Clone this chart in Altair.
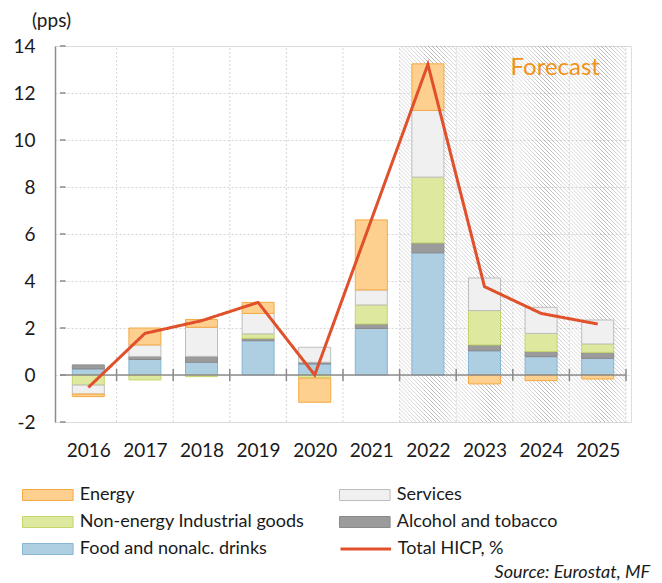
import altair as alt
import pandas as pd

# ---------------- data ----------------
years = [2016, 2017, 2018, 2019, 2020, 2021, 2022, 2023, 2024, 2025]
food = [0.26, 0.66, 0.54, 1.46, 0.47, 1.98, 5.20, 1.03, 0.78, 0.71]
alcohol = [0.17, 0.13, 0.25, 0.10, 0.07, 0.19, 0.42, 0.25, 0.22, 0.25]
neig = [-0.43, -0.21, -0.07, 0.19, -0.13, 0.81, 2.80, 1.46, 0.77, 0.36]
services = [-0.38, 0.49, 1.24, 0.87, 0.64, 0.64, 2.84, 1.39, 1.11, 1.02]
energy = [-0.11, 0.72, 0.33, 0.47, -1.03, 2.98, 1.98, -0.38, -0.24, -0.17]
total_hicp = [-0.53, 1.77, 2.31, 3.09, 0.0, 6.60, 13.22, 3.76, 2.62, 2.17]

stack_names = ["Food and nonalc. drinks", "Alcohol and tobacco",
               "Non-energy Industrial goods", "Services", "Energy"]
stack_values = [food, alcohol, neig, services, energy]
# legend is filled column by column
legend_order = ["Energy", "Non-energy Industrial goods", "Food and nonalc. drinks",
                "Services", "Alcohol and tobacco"]
fill_colors = ["#FDD08F", "#DFE89F", "#AECEE2", "#F0F0F0", "#9B9B9B"]
stroke_colors = ["#F5A944", "#C4D66C", "#86B5D5", "#BDBDBD", "#8A8A8A"]

y_ticks = [-2, 0, 2, 4, 6, 8, 10, 12, 14]
y_min, y_max = -2, 14
x_min, x_max = 2015.5, 2025.5
boundaries = [2016.5, 2017.5, 2018.5, 2019.5, 2020.5, 2021.5, 2022.5, 2023.5, 2024.5, 2025.5]
forecast_start = 2021.5

# ---------------- layout constants ----------------
W, H = 576, 376
FONT = "Lato"
TXT = "#1a1a1a"
AXIS_GRAY = "#8c8c8c"
GRID = "#d6d6d6"
LINE_RED = "#E0502A"

rows = []
for k, (name, vals) in enumerate(zip(stack_names, stack_values)):
    for yr, v in zip(years, vals):
        rows.append({"year": yr, "comp": name, "value": v, "ord": k})
df = pd.DataFrame(rows)

xscale = alt.Scale(domain=[x_min, x_max], nice=False, zero=False)
yscale = alt.Scale(domain=[y_min, y_max], nice=False, zero=False)

# identical axis definitions in every layer, so that they merge into one axis each
X_AXIS = dict(values=years, format="d", title=None, grid=False, ticks=False,
              domain=False, labelFont=FONT, labelFontSize=19, labelColor=TXT,
              labelPadding=19, labelFlush=False, labelOverlap=False)
Y_AXIS = dict(values=y_ticks, labelExpr="datum.value + ''", title="(pps)", titleAngle=0,
              titleAlign="center", titleBaseline="alphabetic", titleX=-4, titleY=-20,
              titleFont=FONT, titleFontSize=19, titleFontWeight="normal",
              titleColor=TXT, domain=True, domainColor=AXIS_GRAY, domainWidth=1.5,
              ticks=False, grid=True, gridColor=GRID, gridDash=[2, 2],
              labelFont=FONT, labelFontSize=19, labelColor=TXT, labelPadding=20)


def X(field):
    return alt.X(field, scale=xscale, axis=alt.Axis(**X_AXIS))


def Y(field, **kw):
    return alt.Y(field, scale=yscale, axis=alt.Axis(**Y_AXIS), **kw)


# ---------------- hatch for the forecast period ----------------
hw = W * (x_max - forecast_start) / (x_max - x_min)
hh = H
s = (hw + hh) / (hw ** 2 + hh ** 2)
gx2, gy2 = s * hw, 1 - s * hh
span = hw + hh
period = 4.0
clear = "rgba(255,255,255,0)"
line_c = "rgba(140,140,140,0.65)"
stops = []
c = 0.0
while c < span:
    for off, col in ((0.0, clear), (1.0, line_c), (2.0, clear)):
        o = (c + off) / span
        if o <= 1:
            stops.append(alt.GradientStop(offset=o, color=col))
    c += period
hatch_fill = alt.LinearGradient(gradient="linear", stops=stops,
                                x1=0, y1=1, x2=gx2, y2=gy2)

hatch_df = pd.DataFrame({"x0": [forecast_start], "x1": [x_max],
                         "y0": [y_min], "y1": [y_max]})
hatch = alt.Chart(hatch_df).mark_rect(fill=hatch_fill, strokeWidth=0).encode(
    x=X("x0:Q"), x2="x1", y=Y("y0:Q"), y2="y1",
)

# vertical grid lines at category boundaries
vgrid_df = pd.DataFrame({"b": boundaries, "lo": y_min, "hi": y_max})
vgrid = alt.Chart(vgrid_df).mark_rule(color=GRID, strokeDash=[2, 2], strokeWidth=1).encode(
    x=X("b:Q"), y=Y("lo:Q"), y2="hi",
)

# ---------------- stacked bars ----------------
leg_common = dict(
    orient="none", title=None, labelFont=FONT, labelFontSize=18, labelColor=TXT,
    labelLimit=400, symbolType="M-4.6,-1H4.6V1H-4.6Z", symbolSize=121, labelOffset=23,
    padding=0, rowPadding=9, columnPadding=32, columns=2,
    legendX=-16.2, legendY=440, symbolStrokeWidth=1, symbolOpacity=1,
)

bars = alt.Chart(df).mark_bar(size=32, strokeWidth=1).encode(
    x=X("year:Q"),
    y=Y("value:Q", stack="zero"),
    fill=alt.Fill("comp:N", scale=alt.Scale(domain=legend_order, range=fill_colors),
                  legend=alt.Legend(**leg_common)),
    stroke=alt.Stroke("comp:N", scale=alt.Scale(domain=legend_order, range=stroke_colors),
                      legend=alt.Legend(**leg_common)),
    order=alt.Order("ord:Q", sort="ascending"),
)

# zero line and its small ticks, inner ticks of the value axis
zero_df = pd.DataFrame({"x0": [x_min], "x1": [x_max], "y": [0]})
zero_line = alt.Chart(zero_df).mark_rule(color=AXIS_GRAY, strokeWidth=1.5).encode(
    x=X("x0:Q"), x2="x1", y=Y("y:Q"),
)
zt_df = pd.DataFrame({"b": boundaries, "lo": -0.26, "hi": 0.26})
zero_ticks = alt.Chart(zt_df).mark_rule(color=AXIS_GRAY, strokeWidth=1.5).encode(
    x=X("b:Q"), y=Y("lo:Q"), y2="hi",
)
yt_df = pd.DataFrame({"y": y_ticks, "x0": x_min, "x1": x_min + 0.1})
y_inner_ticks = alt.Chart(yt_df).mark_rule(color=AXIS_GRAY, strokeWidth=1.5).encode(
    x=X("x0:Q"), x2="x1", y=Y("y:Q"),
)

# ---------------- total HICP line ----------------
line_df = pd.DataFrame({"year": years, "total": total_hicp, "series": "Total HICP, %"})
line = alt.Chart(line_df).mark_line(color=LINE_RED, strokeWidth=3).encode(
    x=X("year:Q"),
    y=Y("total:Q"),
    strokeDash=alt.StrokeDash(
        "series:N", scale=alt.Scale(range=[[1, 0]]),
        legend=alt.Legend(orient="none", title=None, labelFont=FONT, labelFontSize=18,
                          labelColor=TXT, labelLimit=400, symbolType="M-4.6,0H4.6",
                          symbolSize=121, symbolStrokeColor=LINE_RED, symbolStrokeWidth=3,
                          symbolFillColor="transparent", labelOffset=23, padding=0,
                          legendX=301.8, legendY=494)),
)

# ---------------- forecast label ----------------
fc_df = pd.DataFrame({"x": [2024.25], "y": [13.05], "t": ["Forecast"]})
forecast = alt.Chart(fc_df).mark_text(font=FONT, fontSize=24, color="#F29218",
                                      align="center", baseline="middle").encode(
    x=X("x:Q"), y=Y("y:Q"), text="t:N",
)

chart = alt.layer(
    hatch, vgrid, bars, zero_line, zero_ticks, y_inner_ticks, line, forecast
).properties(
    width=W, height=H,
    padding={"left": 55, "top": 46, "right": 662 - 55 - W, "bottom": 583 - 46 - H},
    autosize=alt.AutoSizeParams(type="none"),
    title=alt.TitleParams("Source: Eurostat, MF", orient="bottom", anchor="end",
                          font=FONT, fontSize=18, fontStyle="italic", fontWeight="normal",
                          color=TXT, offset=6, dx=19),
).configure_view(stroke=None).configure(font=FONT, background="white")

chart.save("out.html", embed_options={"renderer": "svg", "actions": False})
